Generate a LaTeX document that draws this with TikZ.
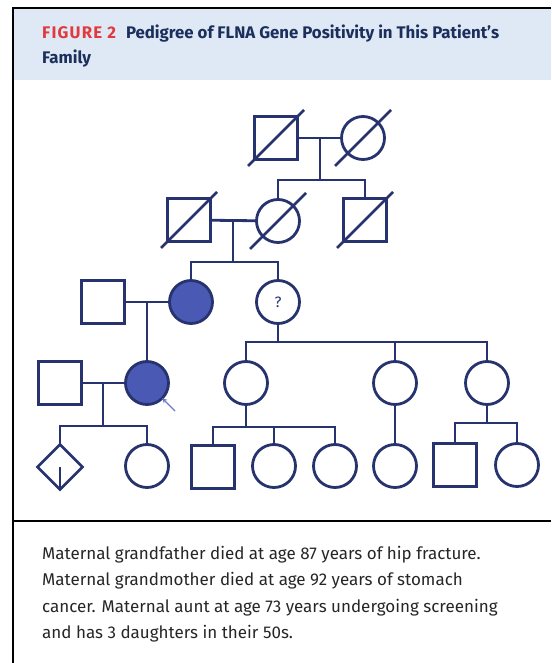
\documentclass[tikz,border=0pt]{standalone}
\usepackage{fontspec}
\setmainfont{Fira Sans}
\usetikzlibrary{shapes.geometric,arrows.meta,positioning}

\definecolor{pednavy}{HTML}{27336F}
\definecolor{pedfill}{HTML}{4A5AB4}
\definecolor{headbg}{HTML}{DEE9F5}
\definecolor{figred}{HTML}{E0393E}
\definecolor{titlenavy}{HTML}{1B2E5C}
\definecolor{probblue}{HTML}{6C7CC4}

\tikzset{
  ped/.style={draw=pednavy, line width=2.8pt, inner sep=0pt, outer sep=0pt},
  male/.style={ped, rectangle, minimum size=43pt},
  female/.style={ped, circle, minimum size=43pt},
  sexunk/.style={ped, diamond, minimum width=45pt, minimum height=45pt},
  affected/.style={fill=pedfill},
  pedline/.style={draw=pednavy, line width=2.8pt},
  frameline/.style={draw=black, line width=1.3pt},
}
% slash through a deceased individual
\newcommand{\deceased}[1]{\draw[pedline] (#1.center) ++(-28,28) -- ++(56,-56);}

\begin{document}
\begin{tikzpicture}[x=1pt, y=-1pt]
    \useasboundingbox (0,0) rectangle (551,663);
    % header and frame
    \fill[headbg] (13,8) rectangle (551,80);
    \draw[frameline] (13,663) -- (13,8) -- (551,8);
    \draw[frameline] (13,521) -- (551,521);
    \node[anchor=base west, inner sep=0pt, font=\fontsize{16.8}{19}\selectfont\bfseries, text=titlenavy] (title1) at (42,39)
      {\textcolor{figred}{\addfontfeature{LetterSpace=7}FIGURE 2}\hspace{10pt}Pedigree of FLNA Gene Positivity in This Patient's};
    \node[anchor=base west, inner sep=0pt, font=\fontsize{16.8}{19}\selectfont\bfseries, text=titlenavy] (title2) at (42,64) {Family};

    % generation I
    \node[male] (ggf) at (276,138) {};
    \node[female] (ggm) at (363,138) {};
    % generation II
    \node[male] (gf) at (189,220) {};
    \node[female] (gm) at (278,221) {};
    \node[male] (uncle) at (365,220) {};
    % generation III
    \node[male] (fa) at (103,302) {};
    \node[female, affected] (mo) at (191,302) {};
    \node[female, font=\fontsize{15}{17}\selectfont, text=pednavy] (aunt) at (278,302) {?};
    % generation IV
    \node[male] (hus) at (60,383) {};
    \node[female, affected] (pat) at (147,383) {};
    \node[female] (cous1) at (246,383) {};
    \node[female] (cous2) at (395,383) {};
    \node[female] (cous3) at (487,383) {};
    % generation V
    \node[sexunk] (kid1) at (60,467) {};
    \node[female] (kid2) at (147,466) {};
    \node[male] (c1a) at (213,467) {};
    \node[female] (c1b) at (274,466) {};
    \node[female] (c1c) at (335,466) {};
    \node[female] (c2a) at (395,466) {};
    \node[male] (c3a) at (455,465) {};
    \node[female] (c3b) at (517,465) {};

    \foreach \who in {ggf,ggm,gf,gm,uncle} {\deceased{\who}}
    \draw[pedline] (kid1.center) -- (kid1.south);

    % marriages and sibships
    \coordinate (m1) at (320,138);
    \coordinate (s1) at (320,180);
    \draw[pedline] (ggf) -- (ggm);
    \draw[pedline] (m1) -- (s1);
    \draw[pedline] (gm) |- (s1) -| (uncle);

    \coordinate (m2) at (233,220);
    \coordinate (s2) at (233,262);
    \draw[pedline] (gf) -- (gm);
    \draw[pedline] (m2) -- (s2);
    \draw[pedline] (mo) |- (s2) -| (aunt);

    \coordinate (m3) at (147,302);
    \draw[pedline] (fa) -- (mo);
    \draw[pedline] (m3) -- (pat);

    \coordinate (s3) at (278,342);
    \draw[pedline] (aunt) -- (s3);
    \draw[pedline] (cous1) |- (s3) -| (cous3);
    \draw[pedline] (s3 -| cous2) -- (cous2);

    \coordinate (m4) at (103,383);
    \coordinate (s4) at (103,426);
    \draw[pedline] (hus) -- (pat);
    \draw[pedline] (m4) -- (s4);
    \draw[pedline] (kid1) |- (s4) -| (kid2);

    \coordinate (s5) at (246,427);
    \draw[pedline] (cous1) -- (s5);
    \draw[pedline] (c1a) |- (s5) -| (c1c);
    \draw[pedline] (s5 -| c1b) -- (c1b);

    \draw[pedline] (cous2) -- (c2a);

    \coordinate (s6) at (487,423);
    \draw[pedline] (cous3) -- (s6);
    \draw[pedline] (c3a) |- (s6) -| (c3b);

    % proband arrow
    \coordinate (parr) at (175,411);
    \draw[probblue, line width=1.2pt, -{Stealth[length=5pt,width=5pt]}] (parr) -- (pat.-45);

    % legend text
    \node[anchor=north west, inner sep=0pt, align=left, font=\fontsize{17}{26.3}\selectfont, text=black!85] (note) at (42,546)
      {Maternal grandfather died at age 87 years of hip fracture.\\
       Maternal grandmother died at age 92 years of stomach\\
       cancer. Maternal aunt at age 73 years undergoing screening\\
       and has 3 daughters in their 50s.};
\end{tikzpicture}
\end{document}
